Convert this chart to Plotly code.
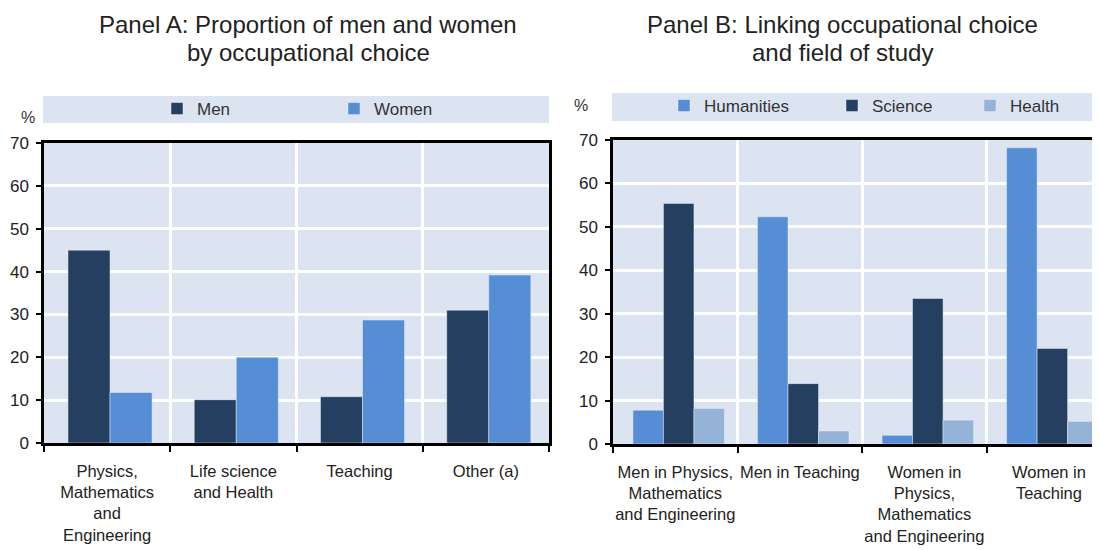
import plotly.graph_objects as go

# ---- data ----
cats_a = ["Physics,<br>Mathematics<br>and<br>Engineering", "Life science<br>and Health", "Teaching", "Other (a)"]
men = [45.0, 10.1, 10.8, 31.0]
women = [11.8, 20.0, 28.7, 39.2]

cats_b = ["Men in Physics,<br>Mathematics<br>and Engineering", "Men in Teaching",
          "Women in<br>Physics,<br>Mathematics<br>and Engineering", "Women in<br>Teaching"]
humanities = [7.8, 52.3, 2.0, 68.2]
science = [55.4, 13.9, 33.5, 22.0]
health = [8.2, 3.0, 5.5, 5.2]

y_ticks = [0, 10, 20, 30, 40, 50, 60, 70]

# ---- styles ----
DARK = "#243F60"
MID = "#558ED5"
LIGHT = "#95B3D7"
BG = "#DCE4F1"
FONT = "Arial, Liberation Sans, sans-serif"
W, H = 1100, 550
OX, OY = 8, 8  # page offset of the plot div

fig = go.Figure()
fig.add_trace(go.Bar(x=cats_a, y=men, name="Men", marker_color=DARK, width=0.333, offset=-0.31,
                     xaxis="x", yaxis="y", legend="legend"))
fig.add_trace(go.Bar(x=cats_a, y=women, name="Women", marker_color=MID, width=0.333, offset=0.023,
                     xaxis="x", yaxis="y", legend="legend2"))
fig.add_trace(go.Bar(x=cats_b, y=humanities, name="Humanities", marker_color=MID, width=0.245, offset=-0.34,
                     xaxis="x2", yaxis="y2", legend="legend3"))
fig.add_trace(go.Bar(x=cats_b, y=science, name="Science", marker_color=DARK, width=0.245, offset=-0.095,
                     xaxis="x2", yaxis="y2", legend="legend4"))
fig.add_trace(go.Bar(x=cats_b, y=health, name="Health", marker_color=LIGHT, width=0.245, offset=0.15,
                     xaxis="x2", yaxis="y2", legend="legend5"))

def px_x(p):
    return (p - OX) / W

def px_y(p):
    return 1 - (p - OY) / H

xcommon = dict(type="category", tickson="boundaries", ticks="outside", ticklen=6, tickwidth=2,
               tickcolor="black", showgrid=True, gridcolor="white", gridwidth=3,
               showline=True, linecolor="black", linewidth=2.5, mirror=True, tickangle=0,
               automargin=False,
               tickfont=dict(family=FONT, size=16.5, color="#222"), ticklabelstandoff=11)
ycommon = dict(range=[0, 70], tickvals=y_ticks, ticks="outside", ticklen=5, tickwidth=2,
               tickcolor="black", showgrid=True, gridcolor="white", gridwidth=3,
               showline=True, linecolor="black", linewidth=2.5, zeroline=False, automargin=False,
               tickfont=dict(family=FONT, size=17, color="#222"), ticklabelstandoff=4)

fig.update_layout(
    width=W, height=H, margin=dict(l=0, r=0, t=0, b=0, autoexpand=False),
    paper_bgcolor="white", plot_bgcolor=BG, showlegend=True,
    xaxis=dict(domain=[px_x(44), px_x(549)], anchor="y", range=[-0.5, 3.5], **xcommon),
    yaxis=dict(domain=[px_y(443), px_y(143)], anchor="x", mirror=True, **ycommon),
    xaxis2=dict(domain=[px_x(613), px_x(1100)], anchor="y2", range=[-0.5, 3.41], **xcommon),
    yaxis2=dict(domain=[px_y(444), px_y(140)], anchor="x2", mirror=False, **ycommon),
)

leg_font = dict(family=FONT, size=17, color="#333")
def leg(xpx, ypx):
    return dict(x=px_x(xpx), y=px_y(ypx), xanchor="left", yanchor="middle", orientation="h",
                bgcolor="rgba(0,0,0,0)", font=leg_font, itemwidth=30, visible=True)

fig.update_layout(
    legend=leg(157, 109), legend2=leg(334, 109),
    legend3=leg(664, 106), legend4=leg(832, 106), legend5=leg(970, 106),
)

# legend bands
fig.add_shape(type="rect", xref="paper", yref="paper", x0=px_x(43), x1=px_x(549),
              y0=px_y(123), y1=px_y(96), fillcolor=BG, line_width=0, layer="below")
fig.add_shape(type="rect", xref="paper", yref="paper", x0=px_x(612), x1=px_x(1100),
              y0=px_y(121), y1=px_y(93), fillcolor=BG, line_width=0, layer="below")

title_font = dict(family=FONT, size=24, color="#222")
titles = [("Panel A: Proportion of men and women", 308, 25), ("by occupational choice", 308, 53),
          ("Panel B: Linking occupational choice", 843, 25), ("and field of study", 843, 53)]
for txt, tx, ty in titles:
    fig.add_annotation(text=txt, x=px_x(tx), y=px_y(ty), xref="paper", yref="paper", showarrow=False,
                       font=title_font, xanchor="center", yanchor="middle")
fig.add_annotation(text="%", x=px_x(28), y=px_y(117), xref="paper", yref="paper", showarrow=False,
                   font=dict(family=FONT, size=16, color="#333"), xanchor="center", yanchor="middle")
fig.add_annotation(text="%", x=px_x(581), y=px_y(105), xref="paper", yref="paper", showarrow=False,
                   font=dict(family=FONT, size=16, color="#333"), xanchor="center", yanchor="middle")

fig.write_html("out.html")
